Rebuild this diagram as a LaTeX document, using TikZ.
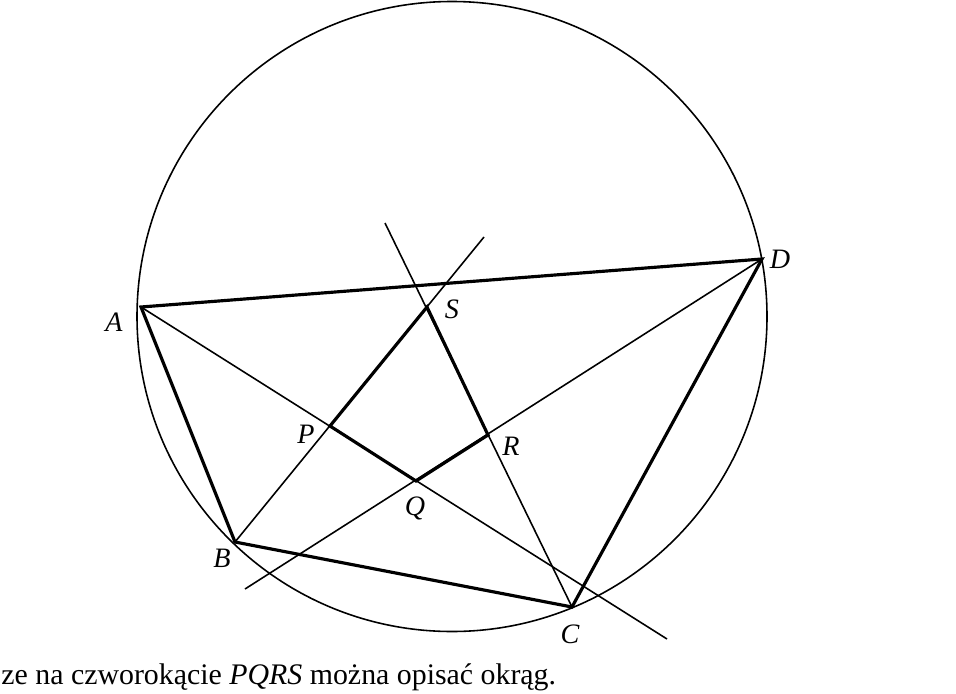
\documentclass[tikz,border=0pt]{standalone}
\usepackage{fontspec}
\setmainfont{Liberation Serif}
\usetikzlibrary{calc}

\begin{document}
\begin{tikzpicture}[
		x=0.02cm, y=-0.02cm,
		thinLine/.style={line width=0.9pt},
		thickLine/.style={line width=1.8pt, line join=miter},
		pointLabel/.style={font=\fontsize{16}{19}\selectfont\itshape, inner sep=0pt}
	]

	\useasboundingbox (0,0) rectangle (956,693);

	% vertices of the quadrilateral
	\coordinate (A) at (141,307);
	\coordinate (B) at (235,542);
	\coordinate (C) at (572,607);
	\coordinate (D) at (762,259);

	% intersections of the bisectors
	\coordinate (P) at (330,426);
	\coordinate (Q) at (416,481);
	\coordinate (R) at (488,435);
	\coordinate (S) at (427,307);

	% free ends of the bisectors
	\coordinate (endA) at (667,639);
	\coordinate (endB) at (484,237);
	\coordinate (endC) at (385,223);
	\coordinate (endD) at (245,589);

	\draw[thinLine] (452,316.5) circle[radius=315];

	\draw[thinLine] (A) -- (endA);
	\draw[thinLine] (B) -- (endB);
	\draw[thinLine] (C) -- (endC);
	\draw[thinLine] (D) -- (endD);

	\draw[thickLine] (A) -- (B) -- (C) -- (D) -- cycle;
	\draw[thickLine] (P) -- (Q) -- (R) -- (S) -- cycle;

	\node[pointLabel] (labelA) at (114,322) {A};
	\node[pointLabel] (labelB) at (222,558) {B};
	\node[pointLabel] (labelC) at (570,634) {C};
	\node[pointLabel] (labelD) at (780,259) {D};
	\node[pointLabel] (labelP) at (306,434) {P};
	\node[pointLabel] (labelQ) at (415,508) {Q};
	\node[pointLabel] (labelR) at (511,446) {R};
	\node[pointLabel] (labelS) at (452,309) {S};

	\node[
		anchor=base west,
		inner sep=0pt,
		font=\fontsize{17}{20}\selectfont
	] (caption) at (1,684) {ze na czworokącie \textit{PQRS} można opisać okrąg.};

\end{tikzpicture}
\end{document}
